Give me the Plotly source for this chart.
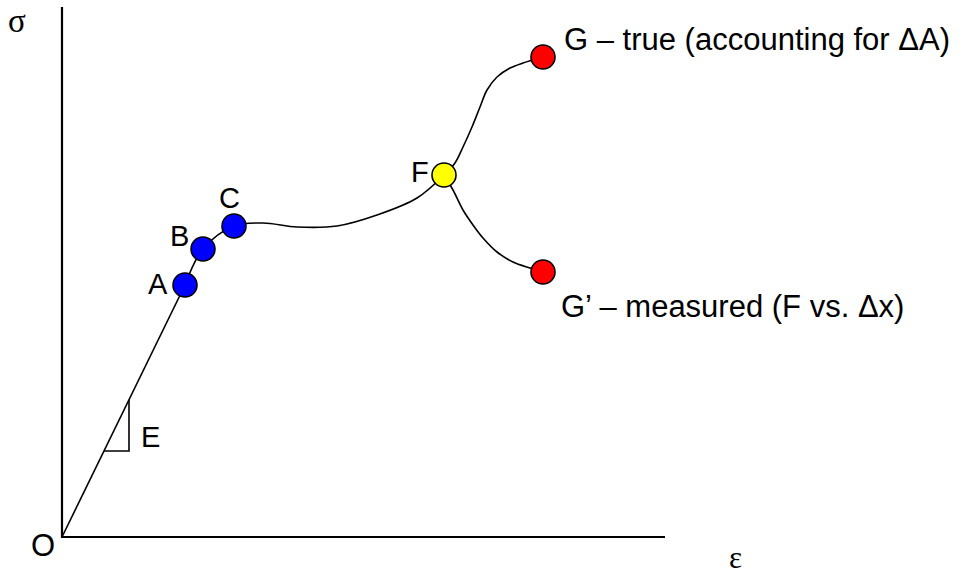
import plotly.graph_objects as go

# Stress-strain schematic (arbitrary units; origin O at (0, 0))
elastic_strain = [0, 123]
elastic_stress = [0, 252]

# Yield / hardening path from A through B and C up to the necking point F
path_strain = [123, 141, 172, 201, 235, 275, 315, 355, 382]
path_stress = [252, 288, 311, 314, 310, 311, 322, 339, 362]

# Beyond F: true curve (accounting for area change) and measured curve
true_strain = [382, 393, 401, 410, 418, 425, 435, 448, 461, 481]
true_stress = [362, 374, 390, 410, 430, 447, 460, 469, 474, 480]
meas_strain = [382, 391, 401, 411, 421, 435, 451, 468, 481]
meas_stress = [362, 347, 327, 312, 299, 285, 275, 269, 265]

# Labelled points
point_names = ["A", "B", "C", "F", "G", "G'"]
point_strain = [123, 141, 172, 382, 481, 481]
point_stress = [252, 288, 311, 362, 480, 265]
point_colors = ["#0000ff", "#0000ff", "#0000ff", "#ffff00", "#ff0000", "#ff0000"]

# Axis extents
axis_strain_max = 603
axis_stress_max = 530

# Slope triangle marking the modulus E
modulus = elastic_stress[1] / elastic_strain[1]
tri_run = [42, 67]

fig = go.Figure()

line_style = dict(color="black", width=1.6)

# Axes
fig.add_trace(go.Scatter(x=[0, 0, axis_strain_max], y=[axis_stress_max, 0, 0],
                         mode="lines", line=dict(color="black", width=2.2),
                         hoverinfo="skip"))

# Elastic line
fig.add_trace(go.Scatter(x=elastic_strain, y=elastic_stress, mode="lines",
                         line=line_style, hoverinfo="skip"))

# Modulus triangle
e_lo, e_hi = tri_run
fig.add_trace(go.Scatter(x=[e_lo, e_hi, e_hi], y=[modulus * e_lo, modulus * e_lo, modulus * e_hi],
                         mode="lines", line=line_style, hoverinfo="skip"))

# Curves
for xs, ys in [(path_strain, path_stress), (true_strain, true_stress), (meas_strain, meas_stress)]:
    fig.add_trace(go.Scatter(x=xs, y=ys, mode="lines",
                             line=dict(color="black", width=1.6, shape="spline", smoothing=1.0),
                             hoverinfo="skip"))

# Points
fig.add_trace(go.Scatter(x=point_strain, y=point_stress, mode="markers",
                         marker=dict(size=24, color=point_colors,
                                     line=dict(color="black", width=1.6)),
                         hoverinfo="skip"))

sans = "Liberation Sans, Arial, sans-serif"
serif = "Liberation Serif, Times New Roman, serif"

labels = [
    dict(text="A", x=point_strain[0] - 27, y=point_stress[0] + 1, font=sans, size=29, anchor="center"),
    dict(text="B", x=point_strain[1] - 24, y=point_stress[1] + 13, font=sans, size=29, anchor="center"),
    dict(text="C", x=point_strain[2] - 5, y=point_stress[2] + 28, font=sans, size=29, anchor="center"),
    dict(text="F", x=point_strain[3] - 24, y=point_stress[3] + 3, font=sans, size=29, anchor="center"),
    dict(text="G – true (accounting for ΔA)", x=point_strain[4] + 19, y=point_stress[4] + 18,
         font=sans, size=31, anchor="left"),
    dict(text="G’ – measured (F vs. Δx)", x=point_strain[5] + 16, y=point_stress[5] - 34,
         font=sans, size=31, anchor="left"),
    dict(text="E", x=88, y=100, font=sans, size=29, anchor="center"),
    dict(text="O", x=-19, y=-8, font=sans, size=31, anchor="center"),
    dict(text="σ", x=-45, y=516, font=serif, size=33, anchor="center"),
    dict(text="ε", x=673, y=-20, font=serif, size=31, anchor="center"),
]
for lab in labels:
    fig.add_annotation(x=lab["x"], y=lab["y"], text=lab["text"], showarrow=False,
                       xanchor=lab["anchor"], yanchor="middle",
                       font=dict(family=lab["font"], size=lab["size"], color="black"))

fig.update_layout(
    width=972, height=576,
    margin=dict(l=0, r=0, t=0, b=0),
    paper_bgcolor="white", plot_bgcolor="white",
    showlegend=False,
    xaxis=dict(range=[-62, 910], visible=False, fixedrange=True),
    yaxis=dict(range=[-39, 537], visible=False, fixedrange=True),
)

fig.write_html("out.html")
